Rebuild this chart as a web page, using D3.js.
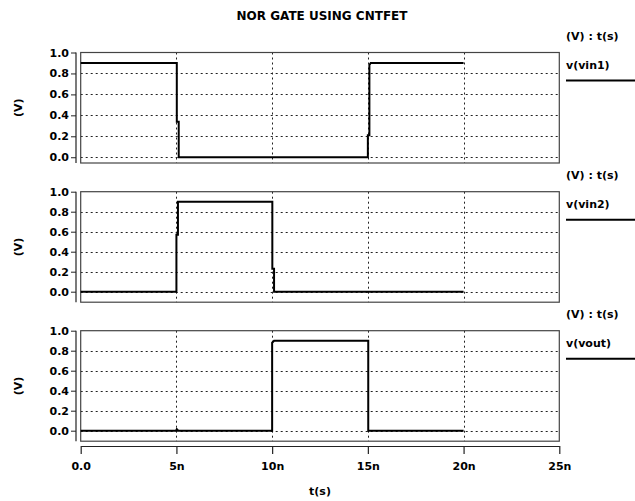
<!DOCTYPE html>
<html>
<head>
<meta charset="utf-8">
<script src="https://cdn.jsdelivr.net/npm/d3@7"></script>
<style>
  body { margin: 0; background: #fff; }
  text { font-family: 'DejaVu Sans', sans-serif; font-weight: bold; fill: #000; }
</style>
</head>
<body>
<script>
// time in ns, voltage in V
const vin1 = [[0, 0.9], [5.02, 0.9], [5.02, 0.34], [5.12, 0.34], [5.12, 0.0], [15.0, 0.0],
  [15.0, 0.21], [15.08, 0.21], [15.08, 0.88], [15.15, 0.9], [20, 0.9]];
const vin2 = [[0, 0.0], [5.0, 0.0], [5.0, 0.57], [5.08, 0.57], [5.08, 0.9], [10.01, 0.9],
  [10.01, 0.23], [10.1, 0.23], [10.1, 0.0], [20, 0.0]];
const vout = [[0, 0.0], [4.98, 0.0], [5.02, 0.015], [5.1, 0.0], [10.0, 0.0], [10.0, 0.88],
  [10.1, 0.9], [15.02, 0.9], [15.02, 0.0], [20, 0.0]];

const seriesNames = ['v(vin1)', 'v(vin2)', 'v(vout)'];
const yMins = [-0.055, -0.105, -0.105];
const yTicks = [0, 0.2, 0.4, 0.6, 0.8, 1.0];
const xTicks = [0, 5, 10, 15, 20, 25];
const xTickLabels = ['0.0', '5n', '10n', '15n', '20n', '25n'];

const FONT = "'DejaVu Sans', sans-serif";

const render = () => {
  const width = 635;
  const height = 501;
  const left = 80.7;
  const right = 559.3;
  const panelTops = [52.5, 191.7, 330.7];
  const panelH = 110.5;

  const svg = d3.select('body')
    .append('svg')
      .attr('width', width)
      .attr('height', height);

  svg.append('text')
    .attr('x', 322)
    .attr('y', 20)
    .attr('text-anchor', 'middle')
    .style('font-size', '12px')
    .text('NOR GATE USING CNTFET');

  const xScale = d3.scaleLinear()
    .domain([0, 25])
    .range([left, right]);

  [vin1, vin2, vout].forEach((data, i) => {
    const top = panelTops[i];
    const yScale = d3.scaleLinear()
      .domain([yMins[i], 1.0])
      .range([top + panelH, top]);

    const g = svg.append('g');

    // dotted grid
    g.selectAll('.hgrid')
      .data(yTicks.filter(d => d < 1))
      .enter()
      .append('line')
        .attr('x1', left)
        .attr('x2', right)
        .attr('y1', d => Math.round(yScale(d)) + 0.5)
        .attr('y2', d => Math.round(yScale(d)) + 0.5)
        .attr('stroke', '#222')
        .attr('stroke-dasharray', '2,3');
    g.selectAll('.vgrid')
      .data(xTicks.filter(d => d > 0 && d < 25))
      .enter()
      .append('line')
        .attr('x1', d => Math.round(xScale(d)) + 0.5)
        .attr('x2', d => Math.round(xScale(d)) + 0.5)
        .attr('y1', top)
        .attr('y2', top + panelH)
        .attr('stroke', '#222')
        .attr('stroke-dasharray', '2,3');

    // frame
    g.append('rect')
      .attr('x', left)
      .attr('y', top)
      .attr('width', right - left)
      .attr('height', panelH)
      .attr('fill', 'none')
      .attr('stroke', '#444')
      .attr('stroke-width', 1.2);

    // y axis, set off from the frame
    const yAxis = d3.axisLeft(yScale)
      .tickValues(yTicks)
      .tickFormat(d3.format('.1f'))
      .tickSize(5)
      .tickPadding(2)
      .tickSizeOuter(0);
    const ya = g.append('g')
      .attr('transform', 'translate(76,0)')
      .call(yAxis);
    ya.select('.domain')
      .attr('d', `M0,${top}V${top + panelH}`)
      .attr('stroke', '#222')
      .attr('stroke-width', 1.2);
    ya.selectAll('.tick line').attr('stroke', '#222');
    ya.selectAll('text')
      .style('font-size', '11px')
      .style('font-family', FONT)
      .style('font-weight', 'bold')
      .attr('fill', '#000');

    g.append('text')
      .attr('transform', `translate(22,${top + panelH / 2}) rotate(-90)`)
      .attr('text-anchor', 'middle')
      .style('font-size', '11px')
      .text('(V)');

    const line = d3.line()
      .x(d => xScale(d[0]))
      .y(d => yScale(d[1]));
    g.append('path')
      .datum(data)
      .attr('d', line)
      .attr('fill', 'none')
      .attr('stroke', '#000')
      .attr('stroke-width', 2);

    // legend on the right
    g.append('text')
      .attr('x', 566)
      .attr('y', top - 13)
      .style('font-size', '11px')
      .text('(V) : t(s)');
    g.append('text')
      .attr('x', 566)
      .attr('y', top + 16)
      .style('font-size', '11px')
      .text(seriesNames[i]);
    g.append('line')
      .attr('x1', 566)
      .attr('x2', 635)
      .attr('y1', top + 28)
      .attr('y2', top + 28)
      .attr('stroke', '#000')
      .attr('stroke-width', 2);
  });

  const xAxis = d3.axisBottom(xScale)
    .tickValues(xTicks)
    .tickFormat((d, i) => xTickLabels[i])
    .tickSize(8)
    .tickPadding(8)
    .tickSizeOuter(0);
  const xa = svg.append('g')
    .attr('transform', 'translate(0,446)')
    .call(xAxis);
  xa.select('.domain').attr('stroke', '#222').attr('stroke-width', 1.2);
  xa.selectAll('.tick line').attr('stroke', '#222').attr('stroke-width', 1.2);
  xa.selectAll('text')
    .style('font-size', '11px')
    .style('font-family', FONT)
    .style('font-weight', 'bold')
    .attr('fill', '#000');

  svg.append('text')
    .attr('x', 320)
    .attr('y', 495)
    .attr('text-anchor', 'middle')
    .style('font-size', '11px')
    .text('t(s)');
};

render();
</script>
</body>
</html>
